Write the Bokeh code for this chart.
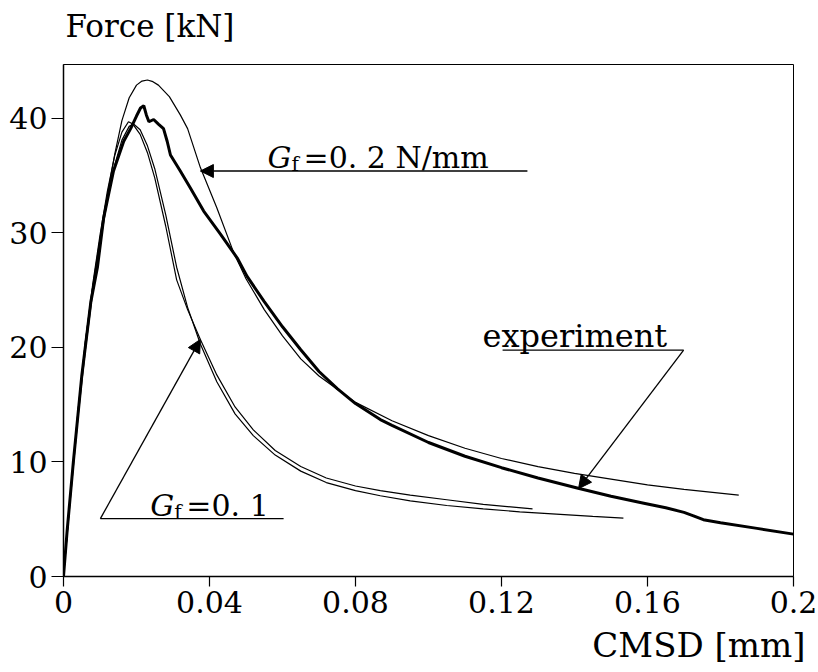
from bokeh.plotting import figure
from bokeh.models import Range1d, FixedTicker, Label, Arrow, NormalHead, Title
from bokeh.embed import file_html
from bokeh.resources import INLINE

# ---- data (CMSD in mm, force in kN) ----
gf02_x = [0, 0.002, 0.004, 0.006, 0.008, 0.010, 0.012, 0.014, 0.016, 0.018, 0.020, 0.0215, 0.023,
          0.0245, 0.026, 0.029, 0.032, 0.034, 0.0375, 0.042, 0.0466, 0.050, 0.055, 0.060, 0.065,
          0.070, 0.080, 0.090, 0.100, 0.110, 0.120, 0.130, 0.140, 0.150, 0.160, 0.170, 0.185]
gf02_y = [0, 7.5, 14.5, 20.5, 25.3, 29.5, 33.3, 36.8, 39.8, 41.8, 42.9, 43.25, 43.35,
          43.2, 42.9, 41.9, 40.3, 39.1, 35.7, 32.2, 28.3, 26.0, 23.3, 21.0, 19.0,
          17.5, 15.2, 13.6, 12.3, 11.2, 10.3, 9.6, 9.0, 8.5, 8.0, 7.6, 7.1]

exp_x = [0, 0.001, 0.0027, 0.005, 0.0075, 0.0093, 0.011, 0.0137, 0.0165, 0.0184, 0.020,
         0.0211, 0.022, 0.0227, 0.0234, 0.0247, 0.026, 0.0274, 0.0284, 0.0293, 0.032,
         0.0348, 0.0384, 0.043, 0.0476, 0.0503, 0.055, 0.060, 0.065, 0.070, 0.075, 0.080,
         0.0868, 0.090, 0.100, 0.110, 0.120, 0.130, 0.141, 0.150, 0.159, 0.165, 0.170,
         0.1726, 0.1753, 0.180, 0.190, 0.200]
exp_y = [0, 4.0, 10.0, 17.5, 24.0, 27.0, 31.3, 35.4, 38.0, 39.1, 40.2,
         40.9, 41.1, 40.3, 39.7, 39.9, 39.5, 39.1, 38.0, 36.8, 35.4,
         33.9, 31.9, 29.9, 27.8, 26.2, 24.0, 21.8, 19.8, 17.9, 16.4, 15.1,
         13.7, 13.2, 11.7, 10.5, 9.5, 8.6, 7.7, 7.0, 6.4, 6.0, 5.6,
         5.3, 4.96, 4.7, 4.2, 3.7]

gf01a_x = [0, 0.002, 0.004, 0.006, 0.008, 0.010, 0.012, 0.014, 0.016, 0.0178, 0.019, 0.021,
           0.023, 0.025, 0.028, 0.031, 0.034, 0.0375, 0.042, 0.047, 0.052, 0.058, 0.065,
           0.072, 0.080, 0.0868, 0.095, 0.105, 0.115, 0.1285]
gf01a_y = [0, 7.5, 14.5, 20.5, 25.5, 29.8, 33.6, 36.7, 38.8, 39.7, 39.5, 38.6,
           37.0, 34.8, 30.6, 25.9, 23.3, 20.7, 17.6, 14.8, 12.8, 11.0, 9.6,
           8.6, 7.9, 7.5, 7.1, 6.7, 6.3, 5.9]

gf01b_x = [0, 0.002, 0.004, 0.006, 0.008, 0.010, 0.012, 0.014, 0.016, 0.018, 0.0192, 0.021,
           0.023, 0.025, 0.028, 0.031, 0.034, 0.0375, 0.042, 0.047, 0.052, 0.058, 0.065,
           0.072, 0.080, 0.0868, 0.095, 0.105, 0.115, 0.125, 0.135, 0.145, 0.1534]
gf01b_y = [0, 7.2, 14.0, 19.8, 24.8, 29.0, 32.8, 35.9, 38.1, 39.3, 39.5, 39.0,
           37.6, 35.6, 31.6, 27.0, 23.5, 20.3, 17.0, 14.2, 12.3, 10.6, 9.2,
           8.2, 7.5, 7.05, 6.6, 6.2, 5.9, 5.65, 5.45, 5.25, 5.1]

x_ticks = [0, 0.04, 0.08, 0.12, 0.16, 0.2]
x_tick_labels = ["0", "0.04", "0.08", "0.12", "0.16", "0.2"]
y_ticks = [0, 10, 20, 30, 40]
y_tick_labels = ["0", "10", "20", "30", "40"]

FONT = "DejaVu Serif"
FS = "30px"

p = figure(width=818, height=672, output_backend="svg", toolbar_location=None, title=None,
           x_range=Range1d(0, 0.2), y_range=Range1d(0, 44.7),
           min_border_left=63, min_border_right=25, min_border_top=63, min_border_bottom=96)
p.background_fill_color = "white"
p.border_fill_color = "white"
p.outline_line_color = "black"
p.outline_line_width = 1
p.grid.visible = False

# axis titles (a small spacer title first, so the real one sits higher)
p.add_layout(Title(text=" ", text_font_size="12px", standoff=0), "above")
p.add_layout(Title(text="Force [kN]", align="left", offset=2, text_font=FONT,
                   text_font_size="31px", text_font_style="normal", text_color="black",
                   standoff=10), "above")

p.add_layout(Title(text="CMSD [mm]", align="right", offset=-12, text_font=FONT,
                   text_font_size="34px", text_font_style="normal", text_color="black",
                   standoff=14), "below")

p.xaxis.ticker = FixedTicker(ticks=x_ticks)
p.xaxis.major_label_overrides = {t: l for t, l in zip(x_ticks, x_tick_labels)}
p.yaxis.ticker = FixedTicker(ticks=y_ticks)
p.yaxis.major_label_overrides = {t: l for t, l in zip(y_ticks, y_tick_labels)}
for ax in (p.xaxis, p.yaxis):
    ax.major_label_text_font = FONT
    ax.major_label_text_font_size = FS
    ax.major_label_text_color = "black"
    ax.axis_line_color = "black"
    ax.axis_line_width = 1.5
    ax.major_tick_line_color = "black"
    ax.major_tick_line_width = 1.2
    ax.major_tick_in = 0
    ax.minor_tick_line_color = None
p.xaxis.major_tick_out = 10
p.xaxis.major_label_standoff = 4
p.yaxis.major_tick_out = 12
p.yaxis.major_label_standoff = 4

p.line(gf02_x, gf02_y, line_color="black", line_width=1.2)
p.line(gf01a_x, gf01a_y, line_color="black", line_width=1.2)
p.line(gf01b_x, gf01b_y, line_color="black", line_width=1.2)
p.line(exp_x, exp_y, line_color="black", line_width=3)

# annotations (data coordinates)
ann_02_arrow = (0.1271, 35.4, 0.0375, 35.4)
ann_02_text = (0.0559, 36.6)
ann_exp_line = (0.1203, 19.77, 0.1699, 19.77)
ann_exp_arrow = (0.1699, 19.77, 0.1411, 7.67)
ann_exp_text = (0.1148, 21.0)
ann_01_line = (0.0101, 5.05, 0.0603, 5.05)
ann_01_arrow = (0.0101, 5.05, 0.0375, 20.7)
ann_01_text = (0.0238, 6.2)


def arrow(a):
    p.add_layout(Arrow(x_start=a[0], y_start=a[1], x_end=a[2], y_end=a[3],
                       line_color="black", line_width=1.3,
                       end=NormalHead(size=13, fill_color="black", line_color="black", line_width=1)))


def gf_label(pos, rest):
    p.add_layout(Label(x=pos[0], y=pos[1], text="G", text_font=FONT, text_font_size=FS,
                       text_font_style="italic", text_baseline="alphabetic", text_color="black"))
    p.add_layout(Label(x=pos[0], y=pos[1], x_offset=24, y_offset=-7, text="f", text_font=FONT,
                       text_font_size="20px", text_baseline="alphabetic", text_color="black"))
    p.add_layout(Label(x=pos[0], y=pos[1], x_offset=36, text=rest, text_font=FONT,
                       text_font_size=FS, text_baseline="alphabetic", text_color="black"))


arrow(ann_02_arrow)
gf_label(ann_02_text, "=0. 2 N/mm")

p.line([ann_exp_line[0], ann_exp_line[2]], [ann_exp_line[1], ann_exp_line[3]],
       line_color="black", line_width=1.3)
arrow(ann_exp_arrow)
p.add_layout(Label(x=ann_exp_text[0], y=ann_exp_text[1], text="experiment", text_font=FONT,
                   text_font_size="32px", text_baseline="alphabetic", text_color="black"))

p.line([ann_01_line[0], ann_01_line[2]], [ann_01_line[1], ann_01_line[3]],
       line_color="black", line_width=1.3)
arrow(ann_01_arrow)
gf_label(ann_01_text, "=0. 1")

open("out.html", "w").write(file_html(p, INLINE))
